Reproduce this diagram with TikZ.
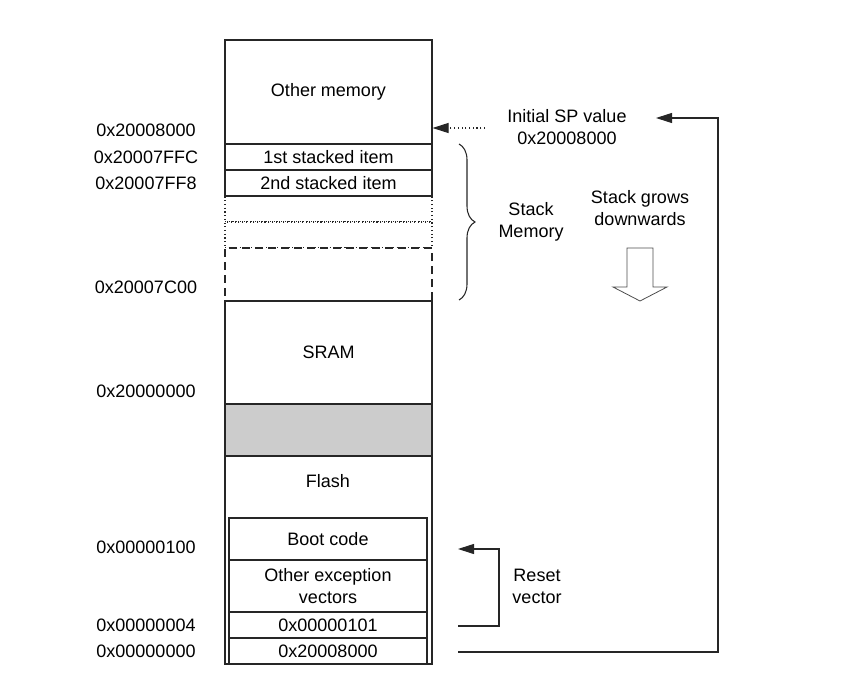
\documentclass[tikz,border=0pt]{standalone}
\usepackage{fontspec}
\setmainfont{Liberation Sans}
\usetikzlibrary{arrows.meta, positioning, fit, decorations.pathreplacing}

\begin{document}
\begin{tikzpicture}[
    x=0.75pt, y=-0.75pt,
    every node/.style={font=\fontsize{13.5}{16.5}\selectfont},
    every label/.style={align=center, inner sep=0pt},
    cell/.style={draw=black!85, line width=0.8pt, fill=white, inner sep=0pt},
    dotcell/.style={cell, dotted},
    dashcell/.style={cell, dash pattern=on 6pt off 3.75pt},
    greycell/.style={cell, fill=black!20},
    addr/.style={inner sep=0pt},
    note/.style={align=center, inner sep=0pt},
    arrow/.style={-{Triangle[length=12pt, width=7.5pt]}, line width=0.8pt, black!85}
]
\useasboundingbox (0,0) rectangle (867,685);

% stack area
\node[dotcell, fit={(225,196) (432,222)}] (free1) {};
\node[dotcell, fit={(225,222) (432,248)}] (free2) {};
\node[dashcell, fit={(225,248) (432,301)}] (free3) {};
\node[cell, fit={(225,40) (432,144)}, label={center:Other memory}] (othermem) {};
\node[cell, fit={(225,144) (432,170)}, label={center:1st stacked item}] (item1) {};
\node[cell, fit={(225,170) (432,196)}, label={center:2nd stacked item}] (item2) {};
\node[cell, fit={(225,301) (432,404)}, label={center:SRAM}] (sram) {};
\node[greycell, fit={(225,404) (432,456)}] (gap) {};

% flash
\node[cell, fit={(225,456) (432,664)}] (flash) {};
\node (flashlbl) at (328,481) {Flash};
\node[cell, fit={(229,518) (427,560)}, label={center:Boot code}] (boot) {};
\node[cell, fit={(229,560) (427,612)}, label={center:Other exception\\vectors}] (othervec) {};
\node[cell, fit={(229,612) (427,638)}, label={center:0x00000101}] (vec1) {};
\node[cell, fit={(229,638) (427,664)}, label={center:0x20008000}] (vec0) {};

% addresses
\node[addr] (a20008000) at (146,130) {0x20008000};
\node[addr] (a20007ffc) at (146,157) {0x20007FFC};
\node[addr] (a20007ff8) at (146,183) {0x20007FF8};
\node[addr] (a20007c00) at (146,287) {0x20007C00};
\node[addr] (a20000000) at (146,391) {0x20000000};
\node[addr] (a00000100) at (146,547) {0x00000100};
\node[addr] (a00000004) at (146,625) {0x00000004};
\node[addr] (a00000000) at (146,651) {0x00000000};

% notes
\node[note] (spnote) at (567,127) {Initial SP value\\0x20008000};
\node[note] (stackmem) at (531,222) {Stack\\Memory};
\node[note] (grows) at (640,208) {Stack grows\\downwards};
\node[note] (resetnote) at (537,586) {Reset\\vector};

\draw[decorate, decoration={brace, amplitude=12pt}, line width=0.8pt, black!85]
    (459,144) -- (459,300);
\draw[black!70, line width=0.6pt] (627,248) -- (627,287) -- (613,287) -- (640,301)
    -- (667,287) -- (653,287) -- (653,248) -- cycle;

% arrows
\coordinate (sptail) at (485,128);
\draw[arrow, dotted] (sptail) -- (othermem.east |- sptail);
\coordinate (spstart) at (458,652);
\coordinate (spcorner) at (718,118);
\coordinate (sphead) at (656,118);
\draw[arrow] (spstart) -| (spcorner) -- (sphead);
\coordinate (rvstart) at (458,626);
\coordinate (rvcorner) at (499,549);
\coordinate (rvhead) at (458,549);
\draw[arrow] (rvstart) -| (rvcorner) -- (rvhead);
\end{tikzpicture}
\end{document}
